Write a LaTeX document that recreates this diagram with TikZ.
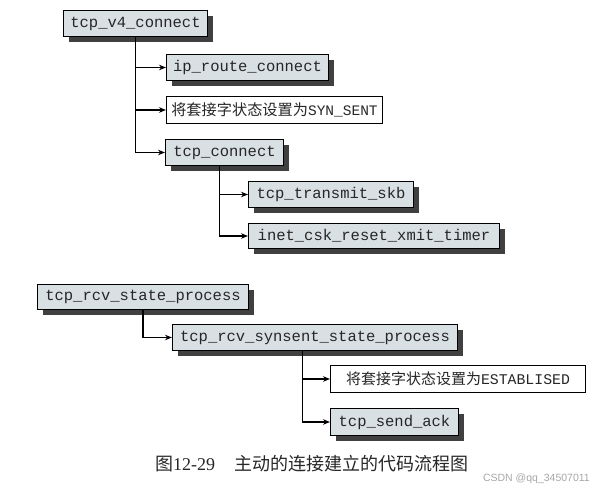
\documentclass[tikz,border=0pt]{standalone}
\usepackage{fontspec}
\setmainfont{Liberation Serif}
\setmonofont{Liberation Mono}
\setsansfont{Liberation Sans}
\newfontfamily\cjk{Noto Sans CJK SC}
\usetikzlibrary{shadows,arrows.meta}
\definecolor{boxfill}{HTML}{D9E0E4}
\definecolor{shadowcol}{HTML}{404040}
\definecolor{txt}{HTML}{262626}
\tikzset{
  fnbox/.style={draw=black, line width=1pt, fill=boxfill, inner sep=0pt, text=txt,
    anchor=north west, font=\ttfamily\fontsize{15.5}{18}\selectfont,
    drop shadow={shadow xshift=5pt, shadow yshift=-5pt, fill=shadowcol, opacity=1}},
  txbox/.style={draw=black, line width=1pt, fill=white, inner sep=0pt, text=txt,
    anchor=north west},
  arr/.style={line width=1.5pt, -{Stealth[length=7pt,width=5.5pt]}},
}
\begin{document}
\begin{tikzpicture}[x=1pt,y=-1pt]
\useasboundingbox (0,0) rectangle (602,490);
% first tree
\node[fnbox, minimum width=144pt, minimum height=26pt] (a) at (63,10) {tcp\_v4\_connect};
\node[fnbox, minimum width=162pt, minimum height=26pt] (b) at (166,54) {ip\_route\_connect};
\node[txbox, minimum width=216pt, minimum height=27pt] (c) at (166,96)
  {{\cjk\fontsize{15.2}{18}\selectfont 将套接字状态设置为}{\ttfamily\fontsize{14.5}{18}\selectfont SYN\_SENT}};
\node[fnbox, minimum width=118pt, minimum height=26pt] (d) at (165,139) {tcp\_connect};
\node[fnbox, minimum width=165pt, minimum height=26pt] (e) at (248,181) {tcp\_transmit\_skb};
\node[fnbox, minimum width=251pt, minimum height=25pt] (f) at (248,223) {inet\_csk\_reset\_xmit\_timer};
% second tree
\node[fnbox, minimum width=211pt, minimum height=25pt] (g) at (37,284) {tcp\_rcv\_state\_process};
\node[fnbox, minimum width=285pt, minimum height=26pt] (h) at (172,324) {tcp\_rcv\_synsent\_state\_process};
\node[txbox, minimum width=255pt, minimum height=27pt] (i) at (330,365)
  {{\cjk\fontsize{15}{18}\selectfont 将套接字状态设置为}{\ttfamily\fontsize{14.8}{18}\selectfont ESTABLISED}};
\node[fnbox, minimum width=128pt, minimum height=27pt] (j) at (330,408) {tcp\_send\_ack};
% connectors
\draw[arr] (a.south) |- (b.west);
\draw[arr] (a.south) |- (c.west);
\draw[arr] (a.south) |- (d.west);
\draw[arr] ([xshift=-5pt]d.south) |- (e.west);
\draw[arr] ([xshift=-5pt]d.south) |- (f.west);
\draw[arr] (g.south) |- (h.west);
\draw[arr] ([xshift=-12.5pt]h.south) |- (i.west);
\draw[arr] ([xshift=-12.5pt]h.south) |- (j.west);
% caption
\node[anchor=west, inner sep=0pt, text=txt, font=\fontsize{18}{20}\selectfont] (cap) at (155,464)
  {{\cjk 图}12-29\hspace{1.1em}{\cjk 主动的连接建立的代码流程图}};
\node[anchor=east, inner sep=0pt, text=black!35, font=\sffamily\fontsize{10.5}{12}\selectfont] (wm) at (590,479) {CSDN @qq\_34507011};
\end{tikzpicture}
\end{document}
